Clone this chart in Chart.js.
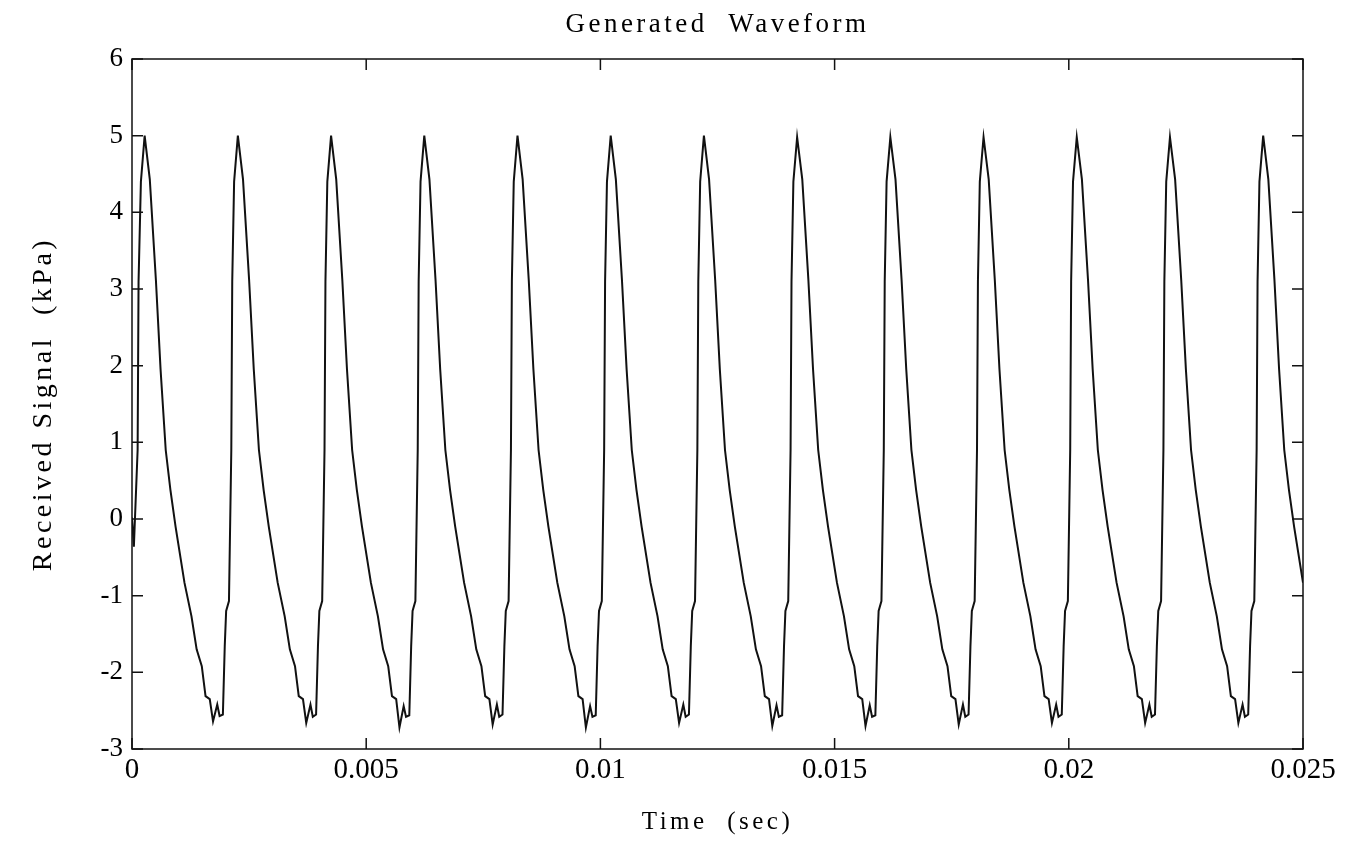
<!DOCTYPE html>
<html>
<head>
<meta charset="utf-8">
<title>Generated Waveform</title>
<script src="https://cdn.jsdelivr.net/npm/chart.js@4/dist/chart.umd.min.js"></script>
<style>
  html, body { margin: 0; padding: 0; background: #fff; }
  canvas { display: block; }
</style>
</head>
<body>
<canvas id="waveChart" width="1354" height="860"></canvas>
<script>
// values, one line per cycle
var timeSec = [
    0, 0.00004, 0.00012, 0.00014, 0.00019,
    0.00027, 0.00038, 0.00051, 0.00061, 0.00072, 0.00082, 0.00093, 0.00112, 0.00127, 0.00138, 0.00149, 0.00157, 0.00166, 0.00173, 0.00182, 0.00187, 0.00194, 0.00198, 0.00201, 0.00207, 0.00212, 0.00214, 0.00218,
    0.00226, 0.00237, 0.00250, 0.00260, 0.00271, 0.00281, 0.00292, 0.00311, 0.00326, 0.00337, 0.00348, 0.00356, 0.00365, 0.00372, 0.00381, 0.00386, 0.00393, 0.00397, 0.00400, 0.00406, 0.00411, 0.00413, 0.00417,
    0.00425, 0.00436, 0.00449, 0.00459, 0.00470, 0.00480, 0.00491, 0.00510, 0.00525, 0.00536, 0.00547, 0.00555, 0.00564, 0.00571, 0.00580, 0.00585, 0.00592, 0.00596, 0.00599, 0.00605, 0.00610, 0.00612, 0.00616,
    0.00624, 0.00635, 0.00648, 0.00658, 0.00669, 0.00679, 0.00690, 0.00709, 0.00724, 0.00735, 0.00746, 0.00754, 0.00763, 0.00770, 0.00779, 0.00784, 0.00791, 0.00795, 0.00798, 0.00804, 0.00809, 0.00811, 0.00815,
    0.00823, 0.00834, 0.00847, 0.00857, 0.00868, 0.00878, 0.00889, 0.00908, 0.00923, 0.00934, 0.00945, 0.00953, 0.00962, 0.00969, 0.00978, 0.00983, 0.00990, 0.00994, 0.00997, 0.01003, 0.01008, 0.01010, 0.01014,
    0.01022, 0.01033, 0.01046, 0.01056, 0.01067, 0.01077, 0.01088, 0.01107, 0.01122, 0.01133, 0.01144, 0.01152, 0.01161, 0.01168, 0.01177, 0.01182, 0.01189, 0.01193, 0.01196, 0.01202, 0.01207, 0.01209, 0.01213,
    0.01221, 0.01232, 0.01245, 0.01255, 0.01266, 0.01276, 0.01287, 0.01306, 0.01321, 0.01332, 0.01343, 0.01351, 0.01360, 0.01367, 0.01376, 0.01381, 0.01388, 0.01392, 0.01395, 0.01401, 0.01406, 0.01408, 0.01412,
    0.01420, 0.01431, 0.01444, 0.01454, 0.01465, 0.01475, 0.01486, 0.01505, 0.01520, 0.01531, 0.01542, 0.01550, 0.01559, 0.01566, 0.01575, 0.01580, 0.01587, 0.01591, 0.01594, 0.01600, 0.01605, 0.01607, 0.01611,
    0.01619, 0.01630, 0.01643, 0.01653, 0.01664, 0.01674, 0.01685, 0.01704, 0.01719, 0.01730, 0.01741, 0.01749, 0.01758, 0.01765, 0.01774, 0.01779, 0.01786, 0.01790, 0.01793, 0.01799, 0.01804, 0.01806, 0.01810,
    0.01818, 0.01829, 0.01842, 0.01852, 0.01863, 0.01873, 0.01884, 0.01903, 0.01918, 0.01929, 0.01940, 0.01948, 0.01957, 0.01964, 0.01973, 0.01978, 0.01985, 0.01989, 0.01992, 0.01998, 0.02003, 0.02005, 0.02009,
    0.02017, 0.02028, 0.02041, 0.02051, 0.02062, 0.02072, 0.02083, 0.02102, 0.02117, 0.02128, 0.02139, 0.02147, 0.02156, 0.02163, 0.02172, 0.02177, 0.02184, 0.02188, 0.02191, 0.02197, 0.02202, 0.02204, 0.02208,
    0.02216, 0.02227, 0.02240, 0.02250, 0.02261, 0.02271, 0.02282, 0.02301, 0.02316, 0.02327, 0.02338, 0.02346, 0.02355, 0.02362, 0.02371, 0.02376, 0.02383, 0.02387, 0.02390, 0.02396, 0.02401, 0.02403, 0.02407,
    0.02415, 0.02426, 0.02439, 0.02449, 0.02460, 0.02470, 0.02481, 0.02500
];

var signalKPa = [
    0.02, -0.36, 0.90, 3.10, 4.40,
    5.00, 4.43, 3.12, 1.95, 0.90, 0.38, -0.10, -0.83, -1.27, -1.70, -1.92, -2.31, -2.35, -2.64, -2.42, -2.57, -2.55, -1.66, -1.20, -1.07, 0.90, 3.10, 4.40,
    5.00, 4.43, 3.12, 1.95, 0.90, 0.38, -0.10, -0.83, -1.27, -1.70, -1.92, -2.31, -2.35, -2.66, -2.42, -2.58, -2.55, -1.66, -1.20, -1.07, 0.90, 3.10, 4.40,
    5.00, 4.43, 3.12, 1.95, 0.90, 0.38, -0.10, -0.83, -1.27, -1.70, -1.92, -2.31, -2.35, -2.72, -2.44, -2.58, -2.56, -1.66, -1.20, -1.07, 0.90, 3.10, 4.40,
    5.00, 4.43, 3.12, 1.95, 0.90, 0.38, -0.10, -0.83, -1.27, -1.70, -1.92, -2.31, -2.35, -2.68, -2.42, -2.58, -2.55, -1.66, -1.20, -1.07, 0.90, 3.10, 4.40,
    5.00, 4.43, 3.12, 1.95, 0.90, 0.38, -0.10, -0.83, -1.27, -1.70, -1.92, -2.31, -2.35, -2.72, -2.44, -2.58, -2.56, -1.66, -1.20, -1.07, 0.90, 3.10, 4.40,
    5.00, 4.43, 3.12, 1.95, 0.90, 0.38, -0.10, -0.83, -1.27, -1.70, -1.92, -2.31, -2.35, -2.66, -2.42, -2.58, -2.55, -1.66, -1.20, -1.07, 0.90, 3.10, 4.40,
    5.00, 4.43, 3.12, 1.95, 0.90, 0.38, -0.10, -0.83, -1.27, -1.70, -1.92, -2.31, -2.35, -2.70, -2.43, -2.58, -2.56, -1.66, -1.20, -1.07, 0.90, 3.10, 4.40,
    4.98, 4.43, 3.12, 1.95, 0.90, 0.38, -0.10, -0.83, -1.27, -1.70, -1.92, -2.31, -2.35, -2.70, -2.43, -2.58, -2.56, -1.66, -1.20, -1.07, 0.90, 3.10, 4.40,
    4.98, 4.43, 3.12, 1.95, 0.90, 0.38, -0.10, -0.83, -1.27, -1.70, -1.92, -2.31, -2.35, -2.68, -2.42, -2.58, -2.55, -1.66, -1.20, -1.07, 0.90, 3.10, 4.40,
    4.98, 4.43, 3.12, 1.95, 0.90, 0.38, -0.10, -0.83, -1.27, -1.70, -1.92, -2.31, -2.35, -2.66, -2.42, -2.58, -2.55, -1.66, -1.20, -1.07, 0.90, 3.10, 4.40,
    4.98, 4.43, 3.12, 1.95, 0.90, 0.38, -0.10, -0.83, -1.27, -1.70, -1.92, -2.31, -2.35, -2.66, -2.42, -2.58, -2.55, -1.66, -1.20, -1.07, 0.90, 3.10, 4.40,
    4.98, 4.43, 3.12, 1.95, 0.90, 0.38, -0.10, -0.83, -1.27, -1.70, -1.92, -2.31, -2.35, -2.66, -2.42, -2.58, -2.55, -1.66, -1.20, -1.07, 0.90, 3.10, 4.40,
    5.00, 4.43, 3.12, 1.95, 0.90, 0.38, -0.10, -0.83
];

var xTicks = [0, 0.005, 0.01, 0.015, 0.02, 0.025];
var xTickLabels = ['0', '0.005', '0.01', '0.015', '0.02', '0.025'];
var yTicks = [-3, -2, -1, 0, 1, 2, 3, 4, 5, 6];

var points = timeSec.map(function (t, i) { return { x: t, y: signalKPa[i] }; });

var ink = '#000';
var serif = 'Liberation Serif';

// the scan's titles are set wide; tick numbers are not.
// titles draw before the datasets, tick labels (z: 1) after them
var wideText = {
    id: 'wideText',
    beforeUpdate: function (chart) { chart.ctx.letterSpacing = '3.5px'; },
    beforeDraw: function (chart) { chart.ctx.letterSpacing = '3.5px'; },
    beforeDatasetsDraw: function (chart) { chart.ctx.letterSpacing = '0px'; }
};

// matlab style box with ticks pointing inwards on all four sides
var boxTicks = {
    id: 'boxTicks',
    afterDatasetsDraw: function (chart) {
        var ctx = chart.ctx;
        var a = chart.chartArea;
        var xs = chart.scales.x;
        var ys = chart.scales.y;
        var len = 11;
        ctx.save();
        ctx.strokeStyle = '#111';
        ctx.lineWidth = 1.5;
        ctx.strokeRect(a.left, a.top, a.right - a.left, a.bottom - a.top);
        ctx.beginPath();
        xTicks.forEach(function (v) {
            var px = xs.getPixelForValue(v);
            ctx.moveTo(px, a.bottom);
            ctx.lineTo(px, a.bottom - len);
            ctx.moveTo(px, a.top);
            ctx.lineTo(px, a.top + len);
        });
        yTicks.forEach(function (v) {
            var py = ys.getPixelForValue(v);
            ctx.moveTo(a.left, py);
            ctx.lineTo(a.left + len, py);
            ctx.moveTo(a.right, py);
            ctx.lineTo(a.right - len, py);
        });
        ctx.stroke();
        ctx.restore();
    }
};

var ctx = document.getElementById('waveChart').getContext('2d');

var waveChart = new Chart(ctx, {
    type: 'line',
    data: {
        datasets: [{
            data: points,
            borderColor: '#111',
            borderWidth: 2,
            pointRadius: 0,
            tension: 0,
            fill: false
        }]
    },
    options: {
        responsive: false,
        animation: false,
        layout: {
            padding: { left: 0, right: 51, top: 0, bottom: 0 }
        },
        plugins: {
            legend: { display: false },
            tooltip: { enabled: false },
            title: {
                display: true,
                fullSize: false,
                text: 'Generated  Waveform',
                color: ink,
                font: { family: serif, size: 27, weight: 'normal' },
                padding: { top: 9, bottom: 17.6 }
            }
        },
        scales: {
            x: {
                type: 'linear',
                min: 0,
                max: 0.025,
                afterBuildTicks: function (s) {
                    s.ticks = xTicks.map(function (v) { return { value: v }; });
                },
                afterFit: function (s) { s.height = 111; },
                grid: { display: false, drawTicks: false },
                border: { display: false },
                ticks: {
                    z: 1,
                    color: ink,
                    padding: 4,
                    maxRotation: 0,
                    font: { family: serif, size: 29 },
                    callback: function (v, i) { return xTickLabels[i]; }
                },
                title: {
                    display: true,
                    text: 'Time  (sec)',
                    color: ink,
                    font: { family: serif, size: 25 },
                    padding: { top: 0, bottom: 23 }
                }
            },
            y: {
                type: 'linear',
                min: -3,
                max: 6,
                afterBuildTicks: function (s) {
                    s.ticks = yTicks.map(function (v) { return { value: v }; });
                },
                afterFit: function (s) { s.width = 132; },
                grid: { display: false, drawTicks: false },
                border: { display: false },
                ticks: {
                    z: 1,
                    color: ink,
                    padding: 9,
                    font: { family: serif, size: 27 }
                },
                title: {
                    display: true,
                    text: 'Received Signal  (kPa)',
                    color: ink,
                    font: { family: serif, size: 28 },
                    padding: { top: 27, bottom: 0 }
                }
            }
        }
    },
    plugins: [wideText, boxTicks]
});
</script>
</body>
</html>
